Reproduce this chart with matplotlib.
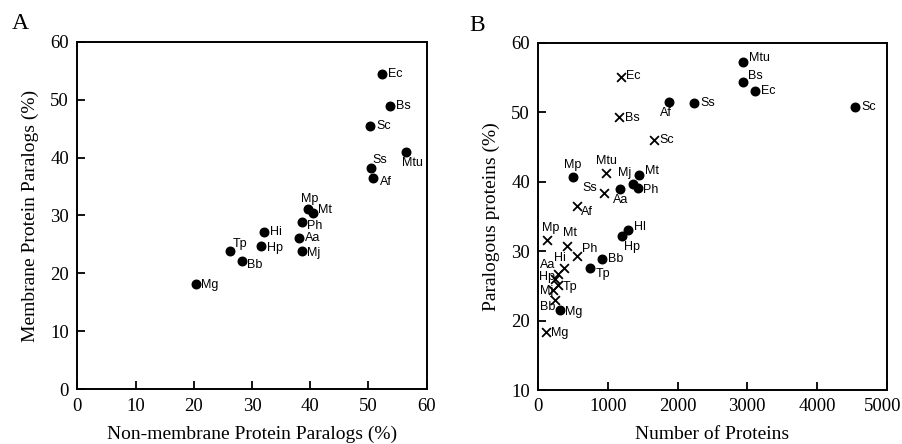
import matplotlib.pyplot as plt
from matplotlib.transforms import ScaledTranslation

# Panel A: paralog percentages, membrane vs non-membrane
a_names = ["Ec", "Bs", "Sc", "Mtu", "Ss", "Af", "Mp", "Mt", "Ph", "Hi",
           "Aa", "Hp", "Tp", "Mj", "Bb", "Mg"]
a_nonmem = [52.3, 53.7, 50.3, 56.5, 50.4, 50.8, 39.7, 40.5, 38.6, 32.1,
            38.1, 31.5, 26.2, 38.6, 28.2, 20.4]
a_mem = [54.5, 48.9, 45.5, 41.0, 38.2, 36.4, 31.1, 30.4, 28.9, 27.2,
         26.1, 24.8, 23.9, 23.8, 22.2, 18.1]

# Panel B: paralogous proteins vs genome size (dots and crosses)
dot_names = ["Mtu", "Bs", "Ec", "Af", "Ss", "Sc", "Mp", "Mt", "Mj", "Ph",
             "Aa", "Hl", "Hp", "Bb", "Tp", "Mg"]
dot_n = [2943, 2943, 3105, 1880, 2234, 4550, 502, 1445, 1364, 1435,
         1172, 1292, 1201, 919, 742, 311]
dot_pct = [57.2, 54.4, 53.1, 51.5, 51.3, 50.8, 40.6, 41.0, 39.6, 39.1,
           39.0, 33.0, 32.2, 28.9, 27.5, 21.5]

cross_names = ["Ec", "Bs", "Sc", "Mtu", "Ss", "Af", "Mp", "Mt", "Ph", "Hi",
               "Aa", "Hp", "Tp", "Mj", "Bb", "Mg"]
cross_n = [1191, 1158, 1660, 967, 943, 550, 129, 416, 550, 368,
           287, 244, 282, 215, 234, 110]
cross_pct = [55.1, 49.3, 46.0, 41.3, 38.3, 36.5, 31.6, 30.8, 29.3, 27.6,
             26.7, 26.0, 25.1, 24.4, 23.0, 18.4]

# label placement (offset pixels, horizontal alignment)
R = (6, 0, "left")
a_offsets = {
    "Ec": R, "Bs": R, "Sc": R, "Mtu": (6, -11, "center"),
    "Ss": (2, 8, "left"), "Af": (7, -4, "left"), "Mp": (1, 10, "center"),
    "Mt": (5, 3, "left"), "Ph": (5, -4, "left"), "Hi": R, "Aa": R,
    "Hp": (6, -2, "left"), "Tp": (3, 7, "left"), "Mj": (5, -2, "left"),
    "Bb": (5, -4, "left"), "Mg": (5, -1, "left"),
}
dot_offsets = {
    "Mtu": (6, 4, "left"), "Bs": (5, 6, "left"), "Ec": R,
    "Af": (-3, -11, "center"), "Ss": R, "Sc": R, "Mp": (-1, 12, "center"),
    "Mt": (6, 4, "left"), "Mj": (-2, 11, "right"), "Ph": (5, -2, "left"),
    "Aa": (1, -11, "center"), "Hl": (6, 3, "left"), "Hp": (10, -11, "center"),
    "Bb": R, "Tp": (6, -6, "left"), "Mg": (5, -2, "left"),
}
cross_offsets = {
    "Ec": (5, 1, "left"), "Bs": (6, -1, "left"), "Sc": (5, 0, "left"),
    "Mtu": (1, 12, "center"), "Ss": (-7, 5, "right"), "Af": (4, -6, "left"),
    "Mp": (3, 12, "center"), "Mt": (3, 13, "center"), "Ph": (5, 7, "left"),
    "Hi": (-4, 10, "center"), "Aa": (-3, 9, "right"), "Hp": (0, 2, "right"),
    "Tp": (5, -2, "left"), "Mj": (0, -1, "right"), "Bb": (1, -7, "right"),
    "Mg": (5, -1, "left"),
}

SERIF = "Liberation Serif"
SANS = "Liberation Sans"


def style_axes(ax):
    for sp in ax.spines.values():
        sp.set_linewidth(1.4)
    ax.tick_params(direction="in", length=6, width=1.3, top=False, right=False,
                   labelsize=13.5, pad=6)
    for lab in ax.get_xticklabels() + ax.get_yticklabels():
        lab.set_fontfamily(SERIF)


def annotate(ax, xs, ys, names, offsets):
    for x, y, n in zip(xs, ys, names):
        dx, dy, ha = offsets[n]
        ax.annotate(n, (x, y), xytext=(dx, dy), textcoords="offset pixels",
                    ha=ha, va="center", fontsize=9, family=SANS)


fig = plt.figure(figsize=(9.03, 4.44), dpi=100)
axA = fig.add_axes([0.0856, 0.1232, 0.3869, 0.7829])
axB = fig.add_axes([0.5961, 0.1216, 0.3858, 0.7822])

# Panel A
axA.scatter(a_nonmem, a_mem, s=38, color="black", zorder=3)
annotate(axA, a_nonmem, a_mem, a_names, a_offsets)
axA.set_xlim(0, 60)
axA.set_ylim(0, 60)
axA.set_xticks(range(0, 61, 10))
axA.set_yticks(range(0, 61, 10))
style_axes(axA)
axA.set_xlabel("Non-membrane Protein Paralogs (%)", family=SERIF, fontsize=14,
               labelpad=8)
axA.set_ylabel("Membrane Protein Paralogs (%)", family=SERIF, fontsize=14,
               labelpad=8)
fig.text(0.022, 0.948, "A", family=SERIF, fontsize=17, ha="center", va="center")

# Panel B
axB.scatter(dot_n, dot_pct, s=38, color="black", zorder=3)
axB.scatter(cross_n, cross_pct, s=40, marker="x", color="black",
            linewidths=1.3, zorder=3)
annotate(axB, dot_n, dot_pct, dot_names, dot_offsets)
annotate(axB, cross_n, cross_pct, cross_names, cross_offsets)
axB.set_xlim(0, 5000)
axB.set_ylim(10, 60)
axB.set_xticks(range(0, 5001, 1000))
axB.set_yticks(range(10, 61, 10))
style_axes(axB)
# last tick label sits at the figure edge, nudge it inward a little
last = axB.get_xticklabels()[-1]
last.set_transform(last.get_transform() + ScaledTranslation(-4 / 100, 0, fig.dpi_scale_trans))
axB.set_xlabel("Number of Proteins", family=SERIF, fontsize=14, labelpad=8)
axB.set_ylabel("Paralogous proteins (%)", family=SERIF, fontsize=14,
               labelpad=8)
fig.text(0.528, 0.943, "B", family=SERIF, fontsize=17, ha="center", va="center")

fig.savefig("out.png", dpi=100)
